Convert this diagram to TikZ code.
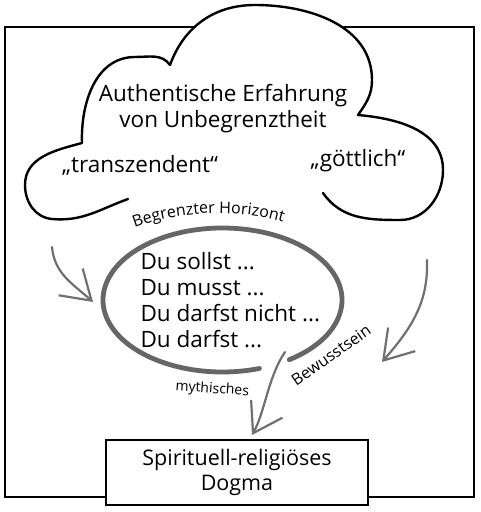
\documentclass[tikz,border=0pt]{standalone}
\usepackage{fontspec}
\setmainfont{Open Sans}
\usetikzlibrary{arrows.meta,decorations.text}
\definecolor{horizongray}{HTML}{666666}
\definecolor{arrowgray}{HTML}{707070}
\begin{document}
\begin{tikzpicture}[x=1pt,y=1pt,
  frame/.style={line width=2.6pt, draw=black},
  cloudline/.style={line width=2.4pt, draw=black, line join=round, line cap=round},
  horizon/.style={line width=4.8pt, draw=horizongray, line cap=round},
  flow/.style={line width=2.2pt, draw=arrowgray, line cap=round,
    -{Straight Barb[length=28pt,width=36pt,line width=2.2pt]}},
  big/.style={font=\fontsize{22.5}{27}\selectfont},
  small/.style={font=\fontsize{14}{16}\selectfont},
  dogmabox/.style={draw=black, line width=2.6pt, fill=white, minimum width=262pt,
    minimum height=65pt, align=center, font=\fontsize{21.5}{25}\selectfont},
]
\useasboundingbox (0,0) rectangle (480,512);
\fill[white] (0,0) rectangle (480,512);
% frame
\draw[frame] (5,15) rectangle (474,485);
% cloud
\def\cloudpath{(128,313) to[out=200,in=-5] (52,293) to[out=175,in=-90] (25,327)
  to[out=90,in=195] (82,369) to[out=92,in=180] (135,455) to[out=0,in=125] (170,447)
  to[out=70,in=180] (255,507) to[out=0,in=90] (372,432) to[out=-90,in=55] (358,397)
  to[out=-5,in=90] (443,342) to[out=-90,in=0] (400,292) to[out=180,in=-55] (323,319)}
\fill[white] \cloudpath -- cycle;
\draw[cloudline] \cloudpath;
\node[big, anchor=base] (t1) at (223,410) {Authentische Erfahrung};
\node[big, anchor=base] (t2) at (223,384) {von Unbegrenztheit};
\node[big, anchor=base] (t3) at (140,339) {„transzendent“};
\node[big, anchor=base] (t4) at (358,345) {„göttlich“};
% horizon
\coordinate (hc) at (222.5,212);
\draw[horizon] ([shift={(-56:119.5pt and 72pt)}]hc) arc[start angle=-56, end angle=288, x radius=119.5pt, y radius=72pt];
\path[decorate, decoration={text along path, text align=center,
  text={|\fontsize{16}{16}\selectfont|Begrenzter Horizont}}]
  (116,276) .. controls (170,304) and (250,306) .. (302,283);
\node[big, anchor=base west] (d1) at (137,242) {Du sollst ...};
\node[big, anchor=base west] (d2) at (137,216) {Du musst ...};
\node[big, anchor=base west] (d3) at (137,190) {Du darfst nicht ...};
\node[big, anchor=base west] (d4) at (137,164) {Du darfst ...};
% dogma box
\node[dogmabox] (dogma) at (237,39.5) {Spirituell-religiöses\\Dogma};
% arrows
\coordinate (l0) at (52,265); \coordinate (l1) at (93,210);
\draw[flow] (l0) to[out=-85,in=138] (l1);
\coordinate (r0) at (427,252); \coordinate (r1) at (382,150);
\draw[flow] (r0) to[out=-88,in=49] (r1);
\coordinate (m0) at (285,160); \coordinate (m1) at (252,77);
\draw[flow] (m0) .. controls (268,135) and (265,100) .. (m1);
% labels
\node[small, anchor=base, rotate=-4] (myth) at (212,119) {mythisches};
\node[font=\fontsize{16}{18}\selectfont, rotate=35] (bew) at (331,157) {Bewusstsein};
\end{tikzpicture}
\end{document}
